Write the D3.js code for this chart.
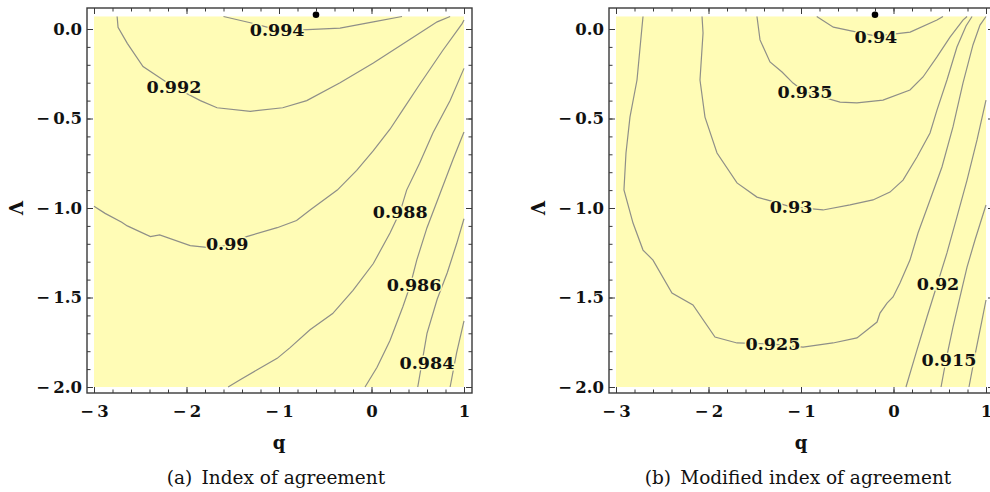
<!DOCTYPE html>
<html>
<head>
<meta charset="utf-8">
<script src="https://cdn.jsdelivr.net/npm/d3@7"></script>
<style>
  body { margin: 0; background: #fff; }
  svg text { font-family: "DejaVu Serif", serif; }
</style>
</head>
<body>
<script>
// tick values
var qTicks = [-3, -2, -1, 0, 1];
var lamTicks = [0, -0.5, -1, -1.5, -2];
var qMinor = d3.range(-15, 6).map(function(d) { return d / 5; });
var lamMinor = d3.range(-20, 1).map(function(d) { return d / 10; });

// (a) index of agreement : contour levels and traced lines [q, Lambda]
var levelsA = ["0.994", "0.992", "0.99", "0.988", "0.986", "0.984", "0.982"];
var c994 = [[-1.6,0.07],[-1.31,0.035],[-1.02,-0.005],[-0.75,-0.005],[-0.34,0.005],[0.02,0.04],[0.33,0.07]];
var c992 = [[-2.75,0.07],[-2.74,0.01],[-2.64,-0.08],[-2.47,-0.21],[-2.15,-0.32],[-1.85,-0.40],[-1.67,-0.44],[-1.31,-0.46],[-0.96,-0.44],[-0.70,-0.40],[-0.34,-0.30],[0.02,-0.19],[0.38,-0.07],[0.71,0.04],[0.85,0.07]];
var c990 = [[-3,-0.99],[-2.88,-1.03],[-2.70,-1.08],[-2.64,-1.10],[-2.39,-1.16],[-2.29,-1.15],[-1.96,-1.21],[-1.78,-1.22],[-1.56,-1.21],[-1.35,-1.16],[-1.02,-1.11],[-0.81,-1.07],[-0.66,-1.01],[-0.37,-0.90],[-0.16,-0.79],[0.02,-0.68],[0.20,-0.56],[0.34,-0.45],[0.52,-0.31],[0.77,-0.12],[0.98,0.03],[1.0,0.05]];
var c988 = [[-1.55,-2],[-1.42,-1.96],[-1.24,-1.905],[-1.02,-1.84],[-0.88,-1.78],[-0.665,-1.68],[-0.42,-1.59],[-0.20,-1.46],[0.02,-1.31],[0.20,-1.14],[0.31,-1.02],[0.38,-0.90],[0.52,-0.75],[0.665,-0.58],[0.85,-0.40],[1.0,-0.22]];
var c986 = [[-0.07,-2],[0.06,-1.89],[0.20,-1.74],[0.34,-1.55],[0.42,-1.43],[0.49,-1.29],[0.60,-1.11],[0.74,-0.92],[0.88,-0.73],[1.0,-0.575]];
var c984 = [[0.50,-2],[0.60,-1.70],[0.71,-1.51],[0.82,-1.36],[0.92,-1.20],[1.0,-1.06]];
var c982 = [[0.85,-2],[0.92,-1.81],[1.0,-1.63]];
var linesA = [c994, c992, c990, c988, c986, c984, c982];
var labelPosA = [[-1.02,-0.006],[-2.135,-0.324],[-1.56,-1.20],[0.31,-1.02],[0.46,-1.43],[0.60,-1.866],null];
var dotA = [-0.6, 0.08];

// (b) modified index of agreement
var levelsB = ["0.94", "0.935", "0.93", "0.925", "0.92", "0.915", "0.91"];
var c940 = [[-0.83,0.07],[-0.65,0.01],[-0.395,-0.017],[-0.19,-0.04],[0.18,-0.017],[0.47,0.05],[0.535,0.07]];
var c935 = [[-1.476,0.07],[-1.443,-0.061],[-1.335,-0.184],[-1.205,-0.24],[-1.086,-0.302],[-0.957,-0.352],[-0.578,-0.408],[-0.395,-0.413],[-0.114,-0.397],[0.178,-0.341],[0.319,-0.268],[0.47,-0.156],[0.611,-0.045],[0.751,0.05],[0.795,0.07]];
var c930 = [[-2.07,0.07],[-2.059,-0.022],[-2.092,-0.285],[-2.038,-0.492],[-1.908,-0.693],[-1.692,-0.86],[-1.476,-0.939],[-1.368,-0.955],[-1.108,-0.994],[-0.762,-1.011],[-0.47,-0.983],[-0.222,-0.955],[-0.038,-0.911],[0.103,-0.844],[0.254,-0.715],[0.395,-0.581],[0.47,-0.453],[0.578,-0.285],[0.686,-0.101],[0.784,0.017],[0.849,0.07]];
var c925 = [[-2.708,0.07],[-2.719,0.011],[-2.773,-0.285],[-2.849,-0.492],[-2.892,-0.693],[-2.914,-0.899],[-2.816,-1.084],[-2.708,-1.235],[-2.6,-1.291],[-2.395,-1.475],[-2.168,-1.542],[-1.93,-1.721],[-1.692,-1.754],[-1.303,-1.76],[-0.978,-1.777],[-0.654,-1.754],[-0.395,-1.726],[-0.286,-1.682],[-0.178,-1.637],[-0.146,-1.587],[-0.07,-1.531],[-0.005,-1.497],[0.07,-1.419],[0.178,-1.291],[0.265,-1.14],[0.395,-0.955],[0.524,-0.771],[0.643,-0.547],[0.751,-0.302],[0.859,-0.089],[0.935,0.022],[1.0,0.07]];
var c920 = [[0.135,-2],[0.254,-1.793],[0.362,-1.609],[0.47,-1.43],[0.578,-1.251],[0.686,-1.05],[0.795,-0.844],[0.903,-0.62],[1.0,-0.397]];
var c915 = [[0.514,-2],[0.568,-1.849],[0.643,-1.665],[0.719,-1.497],[0.795,-1.33],[0.881,-1.179],[1.0,-0.983]];
var c910 = [[0.816,-2],[0.892,-1.793],[0.957,-1.626],[1.0,-1.514]];
var linesB = [c940, c935, c930, c925, c920, c915, c910];
var labelPosB = [[-0.19,-0.045],[-0.957,-0.352],[-1.108,-0.994],[-1.303,-1.76],[0.481,-1.425],[0.60,-1.849],null];
var dotB = [-0.2, 0.08];

var fill = "#fffcb6";

var svg = d3.select("body").append("svg")
    .attr("width", 990)
    .attr("height", 492);

// minus sign followed by a thin gap, as in the original tick labels
function signed(f) {
    return function(d) { var s = f(Math.abs(d)); return d < 0 ? "\u2212\u2009" + s : s; };
}

function panel(left, lines, levels, labelPos, dot, caption) {
    var x = d3.scaleLinear().domain([-3, 1]).range([left, left + 370]);
    var y = d3.scaleLinear().domain([-2, 0]).range([387, 29]);
    var g = svg.append("g");

    // filled region
    g.append("rect")
        .attr("x", x(-3))
        .attr("y", y(0.07))
        .attr("width", x(1) - x(-3))
        .attr("height", y(-2) - y(0.07))
        .attr("fill", fill);

    // contour lines
    var line = d3.line()
        .x(function(d) { return x(d[0]); })
        .y(function(d) { return y(d[1]); });
    g.selectAll("path.contour")
        .data(lines)
        .enter()
        .append("path")
        .attr("class", "contour")
        .attr("d", line)
        .attr("fill", "none")
        .attr("stroke", "#8f8f88")
        .attr("stroke-width", 1.2);

    // contour labels
    var lab = levels.map(function(t, i) { return {t: t, p: labelPos[i]}; })
        .filter(function(d) { return d.p; });
    g.selectAll("text.lab")
        .data(lab)
        .enter()
        .append("text")
        .attr("class", "lab")
        .attr("x", function(d) { return x(d.p[0]); })
        .attr("y", function(d) { return y(d.p[1]); })
        .attr("dy", "0.36em")
        .attr("text-anchor", "middle")
        .attr("font-size", 17.5)
        .attr("font-weight", "bold")
        .attr("fill", "#111")
        .attr("stroke", fill)
        .attr("stroke-width", 3)
        .attr("paint-order", "stroke")
        .text(function(d) { return d.t; });

    // optimum marker
    g.append("circle")
        .attr("cx", x(dot[0]))
        .attr("cy", y(dot[1]))
        .attr("r", 3.3)
        .attr("fill", "#000");

    // frame
    var fx0 = x(-3) - 7, fx1 = x(1) + 8, fy0 = 8, fy1 = 393;
    g.append("rect")
        .attr("x", fx0).attr("y", fy0)
        .attr("width", fx1 - fx0).attr("height", fy1 - fy0)
        .attr("fill", "none")
        .attr("stroke", "#3a3a3a")
        .attr("stroke-width", 1.4);

    function ax(gen, tx, ty, vals, size, labels) {
        var a = g.append("g")
            .attr("transform", "translate(" + tx + "," + ty + ")")
            .call(gen.tickValues(vals).tickSizeInner(-size).tickSizeOuter(0)
                .tickFormat(labels ? labels : ""));
        a.select(".domain").remove();
        a.selectAll("line").attr("stroke", "#3a3a3a").attr("stroke-width", 1);
        a.selectAll("text")
            .attr("font-family", "DejaVu Serif")
            .attr("font-size", 16.5)
            .attr("font-weight", "bold")
            .attr("fill", "#111");
        return a;
    }
    ax(d3.axisBottom(x).tickPadding(12), 0, fy1, qTicks, 6, signed(d3.format("d")));
    ax(d3.axisBottom(x), 0, fy1, qMinor, 3.5);
    ax(d3.axisTop(x), 0, fy0, qTicks, 6);
    ax(d3.axisTop(x), 0, fy0, qMinor, 3.5);
    ax(d3.axisLeft(y).tickPadding(5), fx0, 0, lamTicks, 6, signed(d3.format(".1f")));
    ax(d3.axisLeft(y), fx0, 0, lamMinor, 3.5);
    ax(d3.axisRight(y), fx1, 0, lamTicks, 6);
    ax(d3.axisRight(y), fx1, 0, lamMinor, 3.5);

    // axis titles
    g.append("text")
        .attr("x", x(-1))
        .attr("y", 449)
        .attr("text-anchor", "middle")
        .attr("font-size", 18)
        .attr("font-weight", "bold")
        .attr("fill", "#111")
        .text("q");
    g.append("text")
        .attr("transform", "translate(" + (fx0 - 64) + "," + y(-1) + ") rotate(-90)")
        .attr("text-anchor", "middle")
        .attr("font-size", 18)
        .attr("font-weight", "bold")
        .attr("fill", "#111")
        .text("Λ");

    // caption
    g.append("text")
        .attr("x", x(-1) - 3)
        .attr("y", 484)
        .attr("text-anchor", "middle")
        .attr("font-size", 18.5)
        .attr("fill", "#111")
        .text(caption);
}

panel(94, linesA, levelsA, labelPosA, dotA, "(a)\u2002Index of agreement");
panel(616, linesB, levelsB, labelPosB, dotB, "(b)\u2002Modified index of agreement");
</script>
</body>
</html>
